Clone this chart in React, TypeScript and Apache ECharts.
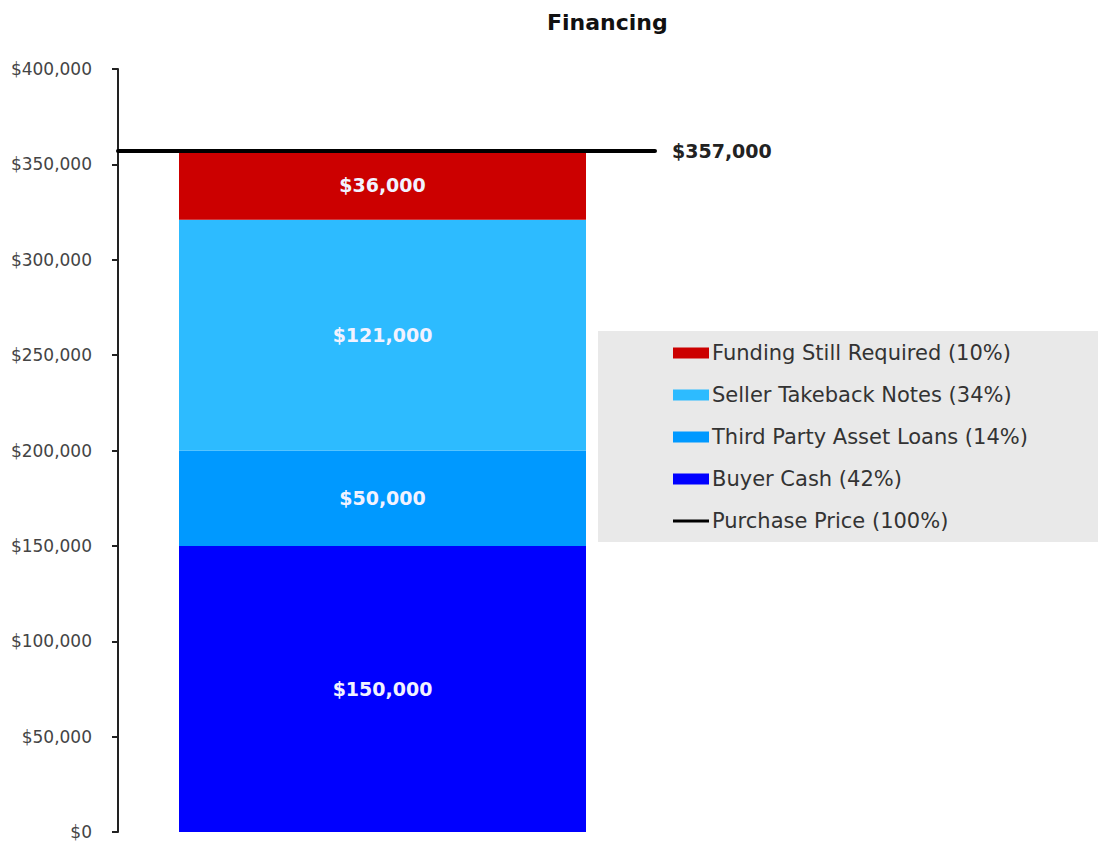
import React, { useEffect, useRef } from "react";
import * as echarts from "echarts";

const seriesNames = [
  "Buyer Cash",
  "Third Party Asset Loans",
  "Seller Takeback Notes",
  "Funding Still Required",
];
const seriesValues = [150000, 50000, 121000, 36000];
const seriesColors = ["#0000ff", "#0099ff", "#2dbbff", "#cc0000"];
const purchasePrice = 357000;
const purchaseName = "Purchase Price";
const yTicks = [0, 50000, 100000, 150000, 200000, 250000, 300000, 350000, 400000];

const fmt = (v: number) => "$" + Math.round(v).toLocaleString("en-US");
const FONT = "DejaVu Sans, Verdana, sans-serif";

export default function App() {
  const ref = useRef<HTMLDivElement>(null);
  useEffect(() => {
    if (!ref.current) return;
    const chart = echarts.init(ref.current, undefined, { renderer: "svg" });
    const total = purchasePrice;
    const legendName = (n: string, v: number) =>
      `${n} (${Math.round((v / total) * 100)}%)`;
    const barNames = seriesNames.map((n, i) => legendName(n, seriesValues[i]));
    const lineName = `${purchaseName} (100%)`;

    const barSeries = seriesNames.map((_, i) => ({
      type: "bar",
      name: barNames[i],
      stack: "total",
      xAxisIndex: 0,
      yAxisIndex: 0,
      barWidth: 407,
      data: [seriesValues[i]],
      itemStyle: { color: seriesColors[i] },
      label: {
        show: true,
        position: "inside",
        formatter: (p: any) => fmt(p.value),
        color: "#f2f2ff",
        fontFamily: FONT,
        fontWeight: "bold",
        fontSize: 19,
      },
      z: 2,
    }));

    chart.setOption({
      animation: false,
      backgroundColor: "#ffffff",
      title: {
        text: "Financing",
        left: 542,
        top: 6,
        textStyle: { fontFamily: FONT, fontWeight: "bold", fontSize: 22, color: "#111" },
      },
      graphic: [
        {
          type: "rect",
          shape: { x: 598, y: 331, width: 500, height: 211 },
          style: { fill: "#e9e9e9" },
          z: -1,
        },
      ],
      legend: {
        orient: "vertical",
        left: 668,
        top: 337,
        itemWidth: 36,
        itemHeight: 11,
        itemGap: 20,
        textStyle: {
          fontFamily: FONT,
          fontSize: 21,
          color: "#333",
          lineHeight: 22,
          padding: [0, 0, 0, -2],
        },
        data: [
          { name: barNames[3], icon: "rect" },
          { name: barNames[2], icon: "rect" },
          { name: barNames[1], icon: "rect" },
          { name: barNames[0], icon: "rect" },
          {
            name: lineName,
            icon: "path://M0,0 L0.01,0 L0.01,0.01 Z M0,4 L36,4 L36,7 L0,7 Z M0,11 L0.01,11 L0.01,10.99 Z",
          },
        ],
      },
      grid: [
        { left: 118, top: 69, width: 529, bottom: 9 },
        { left: 118, top: 69, right: 443, bottom: 9 },
      ],
      xAxis: [
        { type: "category", gridIndex: 0, data: ["Financing"], show: false },
        { type: "value", gridIndex: 1, min: 0, max: 1, show: false },
      ],
      yAxis: [
        {
          type: "value",
          gridIndex: 0,
          min: yTicks[0],
          max: yTicks[yTicks.length - 1],
          interval: yTicks[1] - yTicks[0],
          axisLine: { show: true, lineStyle: { color: "#222", width: 2 } },
          axisTick: { show: true, length: 6, lineStyle: { color: "#222", width: 2 } },
          splitLine: { show: false },
          axisLabel: {
            margin: 26,
            formatter: (v: number) => fmt(v),
            fontFamily: FONT,
            fontSize: 17,
            color: "#444",
          },
        },
        {
          type: "value",
          gridIndex: 1,
          min: yTicks[0],
          max: yTicks[yTicks.length - 1],
          show: false,
        },
      ],
      series: [
        ...barSeries,
        {
          type: "line",
          name: lineName,
          xAxisIndex: 1,
          yAxisIndex: 1,
          symbol: "none",
          showSymbol: false,
          lineStyle: { color: "#000", width: 4, cap: "round" },
          itemStyle: { color: "#000" },
          data: [
            [0, purchasePrice],
            [1, purchasePrice],
          ],
          endLabel: {
            show: true,
            distance: 17,
            formatter: () => fmt(purchasePrice),
            fontFamily: FONT,
            fontWeight: "bold",
            fontSize: 19,
            color: "#222",
          },
          z: 5,
        },
      ],
    });
    return () => chart.dispose();
  }, []);
  return (
    <div
      ref={ref}
      style={{ position: "absolute", left: 0, top: 0, width: 1098, height: 841 }}
    />
  );
}
